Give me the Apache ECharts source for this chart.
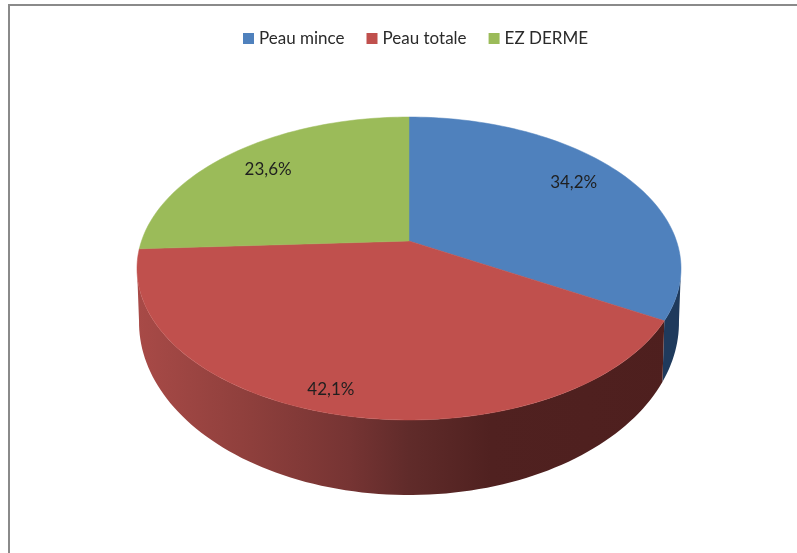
<!DOCTYPE html>
<html><head><meta charset="utf-8">
<style>html,body{margin:0;padding:0;background:#fff}#c{width:797px;height:553px}</style>
<script src="https://cdn.jsdelivr.net/npm/echarts@6/dist/echarts.min.js"></script>
</head><body><div id="c"></div>
<script>
const categories = ['Peau mince', 'Peau totale', 'EZ DERME'];
const values = [34.2, 42.1, 23.6];
const topColors = ['#4f81bd', '#c0504d', '#9bbb59'];

// Perspective view of the disc: top face and bottom face
const K = 0.1815, CX = 409;
const TOP = {cy: 241, a: 267.5, b: 146.5};
const BOT = {cy: 291, a: 265.5, b: 167};
const FRONT = [100, 260];
const LABEL_R = [0.79, 0.89, 0.79];
const LABEL_TURN = [-4.5, -3, -4.5];
const total = values.reduce((s, v) => s + v, 0);
const rad = d => d * Math.PI / 180;
const warp = t => t + 6.34 * Math.sin(rad(t)) + 9.65 * Math.sin(rad(2 * t));
function proj(face, deg, r) {
  const u = Math.sin(rad(deg)) * r, v = Math.cos(rad(deg)) * r, w = 1 + K * v;
  return [CX + face.a * u / w, face.cy - face.b * v / w];
}
function arc(face, from, to) {
  const n = Math.max(2, Math.ceil(Math.abs(to - from) / 1.5)), pts = [];
  for (let i = 0; i <= n; i++) pts.push(proj(face, from + (to - from) * i / n, 1));
  return pts;
}
const wallFills = [
  '#1f3a5c',
  {type: 'linear', x: 137, y: 0, x2: 681, y2: 0, global: true, colorStops: [
    {offset: 0, color: '#a84a47'}, {offset: 0.21, color: '#8e3f3c'},
    {offset: 0.39, color: '#763433'}, {offset: 0.5, color: '#602b2a'},
    {offset: 0.65, color: '#502120'}, {offset: 1, color: '#4e1f1e'}]},
  '#000'
];
function renderSlice(i) {
  const before = values.slice(0, i).reduce((s, v) => s + v, 0);
  const t0 = before / total * 360, t1 = (before + values[i]) / total * 360;
  const a0 = warp(t0), a1 = warp(t1);
  const children = [];
  const w0 = Math.max(a0, FRONT[0]), w1 = Math.min(a1, FRONT[1]);
  if (w1 > w0) {
    children.push({type: 'polygon', shape: {points: arc(TOP, w0, w1).concat(arc(BOT, w0, w1).reverse())},
      style: {fill: wallFills[i]}});
  }
  children.push({type: 'polygon', shape: {points: [proj(TOP, 0, 0)].concat(arc(TOP, a0, a1))},
    style: {fill: topColors[i], stroke: topColors[i], lineWidth: 0.5}});
  const p = proj(TOP, (t0 + t1) / 2 + LABEL_TURN[i], LABEL_R[i]);
  children.push({type: 'text', style: {text: values[i].toFixed(1).replace('.', ',') + '%',
    x: p[0], y: p[1], align: 'center', verticalAlign: 'middle',
    font: '17px Lato', fill: '#1f1f1f'}});
  return {type: 'group', children};
}
const chart = echarts.init(document.getElementById('c'), null, {renderer: 'canvas'});
chart.setOption({
  animation: false,
  backgroundColor: '#fff',
  legend: {
    left: 238, top: 25, itemWidth: 11, itemHeight: 11, itemGap: 22, icon: 'rect',
    data: categories, selectedMode: false,
    textStyle: {fontFamily: 'Lato', fontSize: 17, color: '#2a2a2a'}
  },
  graphic: [
    {type: 'rect', shape: {x: 8, y: 4, width: 2, height: 549}, style: {fill: '#8a8a8a'}, silent: true},
    {type: 'rect', shape: {x: 8, y: 4, width: 789, height: 2}, style: {fill: '#8a8a8a'}, silent: true}
  ],
  series: categories.map((name, i) => ({
    type: 'custom', name, coordinateSystem: 'none', silent: true,
    itemStyle: {color: topColors[i]},
    data: [values[i]],
    renderItem: () => renderSlice(i)
  }))
});
</script></body></html>
